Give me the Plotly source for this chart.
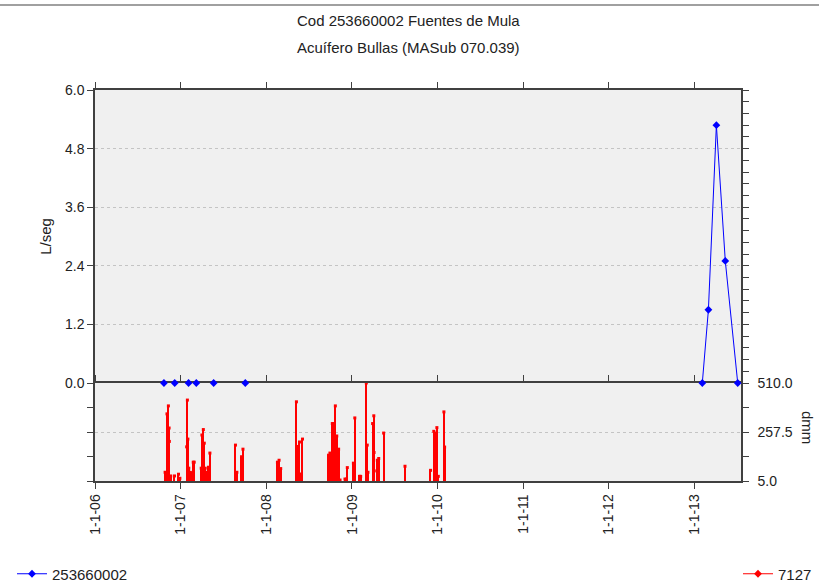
import plotly.graph_objects as go

# ---- data ----
# early near-zero readings (isolated points on the axis)
flow_dates_early = ["2006-10-22", "2006-12-07", "2007-02-04", "2007-03-09", "2007-05-22", "2007-10-04"]
flow_values_early = [0.0, 0.0, 0.0, 0.0, 0.0, 0.0]
# 2013 readings (connected)
flow_dates_2013 = ["2013-02-03", "2013-03-01", "2013-04-04", "2013-05-12", "2013-07-04"]
flow_values_2013 = [0.0, 1.5, 5.28, 2.5, 0.0]

rain_dates = ["2006-10-27", "2006-11-04", "2006-11-10", "2006-11-13", "2006-11-14", "2006-11-20",
              "2006-12-06", "2006-12-23", "2006-12-29", "2007-01-27", "2007-01-30", "2007-02-01",
              "2007-02-05", "2007-02-10", "2007-02-14", "2007-02-24", "2007-02-28", "2007-03-30",
              "2007-04-02", "2007-04-08", "2007-04-12", "2007-04-16", "2007-04-19", "2007-04-23",
              "2007-04-30", "2007-05-06", "2007-08-23", "2007-08-29", "2007-09-18", "2007-09-24",
              "2008-02-18", "2008-02-25", "2008-03-03", "2008-05-09", "2008-05-16", "2008-05-22",
              "2008-05-29", "2008-06-04", "2008-09-23", "2008-09-29", "2008-10-02", "2008-10-09",
              "2008-10-12", "2008-10-15", "2008-10-18", "2008-10-22", "2008-10-28", "2008-11-01",
              "2008-11-05", "2008-11-11", "2008-12-02", "2008-12-08", "2008-12-12", "2009-01-07",
              "2009-01-13", "2009-02-02", "2009-02-07", "2009-03-03", "2009-03-07", "2009-03-10",
              "2009-03-30", "2009-04-04", "2009-04-05", "2009-04-06", "2009-04-19", "2009-04-25",
              "2009-05-16", "2009-08-15", "2009-12-02", "2009-12-16", "2009-12-22", "2009-12-29",
              "2010-01-04", "2010-01-28", "2010-01-31"]
rain_values = [50, 351, 392, 278, 209, 31,
               31, 40, 19, 181, 422, 221,
               71, 50, 48, 102, 102, 71,
               242, 270, 200, 71, 50, 19,
               76, 149, 190, 50, 130, 169,
               102, 112, 69, 413, 183, 206,
               41, 221, 138, 149, 27, 301,
               79, 301, 219, 392, 237, 79,
               169, 10, 15, 15, 74, 97,
               330, 29, 29, 510, 190, 50,
               301, 341, 152, 57, 112, 121,
               252, 81, 60, 261, 252, 280,
               29, 361, 180]

x_tick_vals = ["2006-01-01", "2007-01-01", "2008-01-01", "2009-01-01", "2010-01-01",
               "2011-01-01", "2012-01-01", "2013-01-01"]
x_tick_text = ["1-1-06", "1-1-07", "1-1-08", "1-1-09", "1-1-10", "1-1-11", "1-1-12", "1-1-13"]

title_line1 = "Cod 253660002 Fuentes de Mula"
title_line2 = "Acuífero Bullas (MASub 070.039)"

# ---- figure ----
FONT = "Liberation Sans, Arial, sans-serif"
BLUE = "#0000FF"
RED = "#FF0000"
AX = "#404040"
GRID = "#c4c4c4"
TICK_SIZE = 14
TEXT_SIZE = 15

fig = go.Figure()

fig.add_trace(go.Bar(x=rain_dates, y=rain_values, xaxis="x", yaxis="y",
                     width=5 * 86400000, marker=dict(color=RED, line=dict(width=0)),
                     showlegend=False, hoverinfo="x+y"))
fig.add_trace(go.Scatter(x=rain_dates, y=rain_values, xaxis="x", yaxis="y", mode="markers",
                         marker=dict(symbol="square", size=3, color=RED),
                         showlegend=False))

fig.add_trace(go.Scatter(x=flow_dates_early, y=flow_values_early, xaxis="x2", yaxis="y2",
                         mode="markers", name="253660002", legendgroup="flow",
                         marker=dict(symbol="diamond", size=6, color=BLUE),
                         cliponaxis=False, showlegend=False))
fig.add_trace(go.Scatter(x=flow_dates_2013, y=flow_values_2013, xaxis="x2", yaxis="y2",
                         mode="lines+markers", name="253660002", legendgroup="flow",
                         line=dict(color=BLUE, width=1),
                         marker=dict(symbol="diamond", size=6, color=BLUE),
                         cliponaxis=False, legend="legend"))

fig.add_trace(go.Scatter(x=[None], y=[None], xaxis="x2", yaxis="y2",
                         mode="lines+markers", name="7127",
                         line=dict(color=RED, width=1),
                         marker=dict(symbol="diamond", size=6, color=RED),
                         legend="legend2"))

xrange = ["2006-01-01", "2013-07-18"]
split = 98 / 391
legend_y = (481 - 574) / 391

fig.update_layout(
    width=819, height=584,
    margin=dict(l=95, r=78, t=90, b=103, autoexpand=False),
    paper_bgcolor="white",
    plot_bgcolor="#f0f0f0",
    font=dict(family=FONT, size=TICK_SIZE, color="#222222"),
    bargap=0,
    xaxis=dict(domain=[0, 1], anchor="y", range=xrange, type="date", automargin=False,
               tickvals=x_tick_vals, ticktext=x_tick_text, tickangle=-90,
               ticks="outside", ticklen=6, tickcolor=AX, showline=True, linecolor=AX,
               linewidth=1.5, mirror="ticks", showgrid=False, zeroline=False,
               tickfont=dict(size=TICK_SIZE)),
    xaxis2=dict(domain=[0, 1], anchor="y2", range=xrange, type="date", matches="x",
                automargin=False,
                tickvals=x_tick_vals, showticklabels=False, side="top",
                ticks="outside", ticklen=6, tickcolor=AX, showline=True, linecolor=AX,
                linewidth=1.5, showgrid=False, zeroline=False),
    yaxis=dict(domain=[0, split], anchor="x", range=[5, 510], side="right", automargin=False,
               tickvals=[5, 257.5, 510], ticktext=["5.0", "257.5", "510.0"],
               ticks="outside", ticklen=6, tickcolor=AX, showline=True, linecolor=AX,
               linewidth=1.5, mirror="ticks", showgrid=True, gridcolor=GRID,
               griddash="dot", zeroline=False, ticklabelstandoff=6,
               tickfont=dict(size=TICK_SIZE),
               minor=dict(tick0=5, dtick=126.25, ticks="outside", ticklen=6,
                          tickcolor=AX, showgrid=False)),
    yaxis2=dict(domain=[split, 1], anchor="x2", range=[0, 6], side="left", automargin=False,
                tickvals=[0, 1.2, 2.4, 3.6, 4.8, 6.0],
                ticktext=["0.0", "1.2", "2.4", "3.6", "4.8", "6.0"],
                ticks="outside", ticklen=6, tickcolor=AX, showline=True, linecolor=AX,
                linewidth=1.5, showgrid=True, gridcolor=GRID, griddash="dot",
                zeroline=False, tickfont=dict(size=TICK_SIZE),
                title=dict(text="L/seg", font=dict(size=TEXT_SIZE), standoff=10)),
    yaxis3=dict(overlaying="y2", anchor="x2", side="right", range=[0, 6], automargin=False,
                tick0=0, dtick=0.24, ticks="outside", ticklen=6, tickcolor=AX,
                showticklabels=False, showline=True, linecolor=AX, linewidth=1.5,
                showgrid=False, zeroline=False),
    legend=dict(x=(12 - 95) / 646, xanchor="left", y=legend_y, yanchor="middle",
                orientation="h", bgcolor="rgba(0,0,0,0)", font=dict(size=TEXT_SIZE)),
    legend2=dict(x=(738 - 95) / 646, xanchor="left", y=legend_y, yanchor="middle",
                 orientation="h", bgcolor="rgba(0,0,0,0)", font=dict(size=TEXT_SIZE)),
    annotations=[
        dict(text=title_line1, xref="paper", yref="paper", x=(408 - 95) / 646,
             y=(481 - 20) / 391, xanchor="center", yanchor="middle", showarrow=False,
             font=dict(size=TEXT_SIZE)),
        dict(text=title_line2, xref="paper", yref="paper", x=(408 - 95) / 646,
             y=(481 - 48) / 391, xanchor="center", yanchor="middle", showarrow=False,
             font=dict(size=TEXT_SIZE)),
        dict(text="dmm", xref="paper", yref="paper", x=(808 - 95) / 646,
             y=(481 - 427) / 391, xanchor="center", yanchor="middle", showarrow=False,
             textangle=90, font=dict(size=TEXT_SIZE)),
    ],
    shapes=[
        dict(type="line", xref="paper", yref="paper", x0=-95 / 646, x1=1 + 78 / 646,
             y0=(481 - 5) / 391, y1=(481 - 5) / 391, line=dict(color="#808080", width=1.5)),
    ],
)

# dummy trace so the overlay axis with the right-hand minor ticks renders
fig.add_trace(go.Scatter(x=[None], y=[None], xaxis="x2", yaxis="y3", showlegend=False,
                         hoverinfo="skip"))

# remove the browser's default 8px page margin so the figure sits at the window origin
fig.write_html("out.html", config={"displayModeBar": False},
               post_script="document.body.style.margin='0';document.body.style.padding='0';")
